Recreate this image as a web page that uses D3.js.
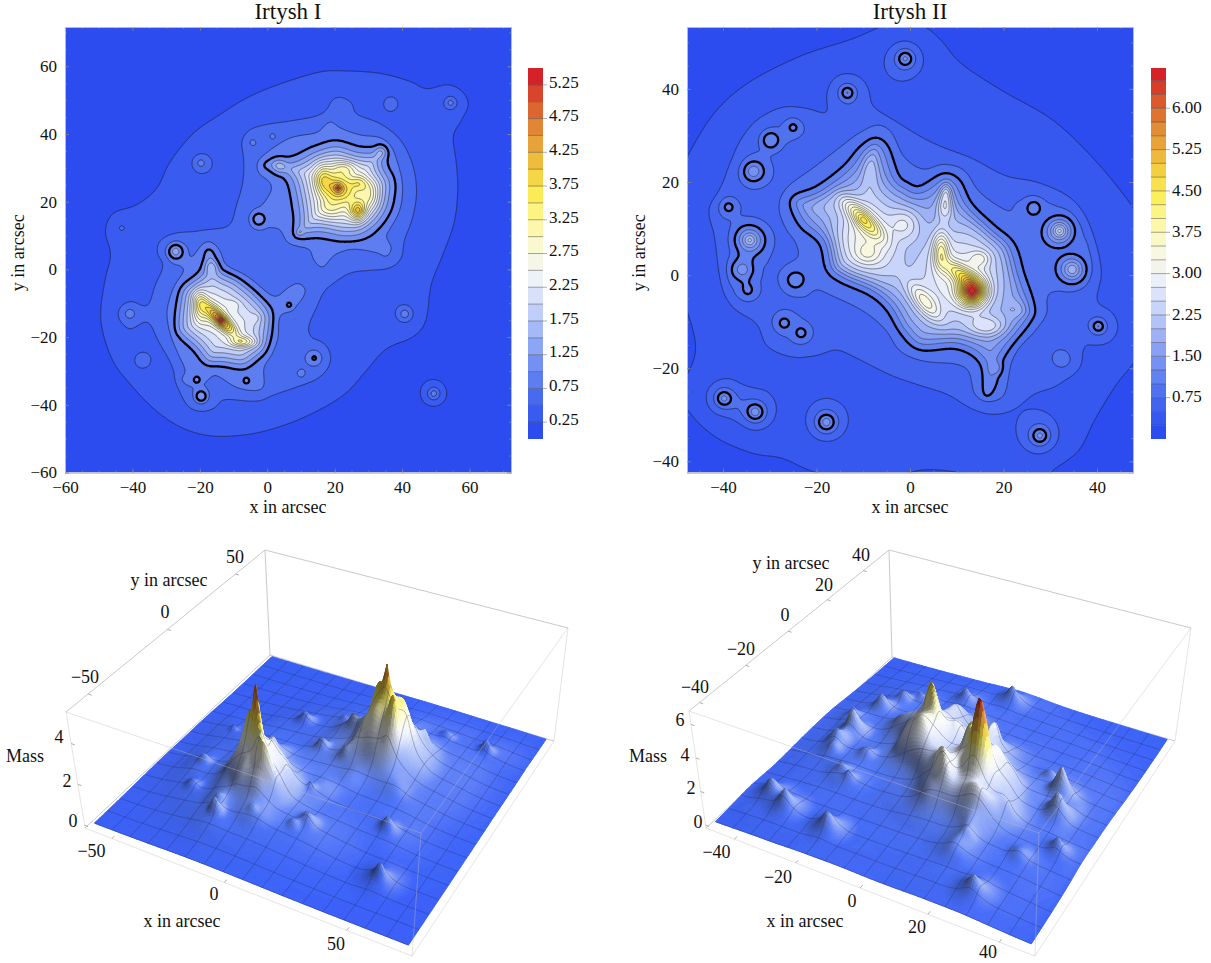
<!DOCTYPE html>
<html><head><meta charset="utf-8">
<style>html,body{margin:0;background:#fff}svg{display:block}text{font-family:"Liberation Serif",serif;fill:#111}</style>
<script src="https://cdn.jsdelivr.net/npm/d3@7"></script></head><body><svg id="c" width="1211" height="963"></svg>
<script>
// ---- values (data units: arcsec, mass) ----
const colorPos=[0,.09,.18,.27,.36,.43,.5,.59,.66,.73,.8,.87,.95,1];
const colorHex=["#2c4cf0","#4668ee","#6e8cf2","#9db2f6","#d0dafb","#eef2f8","#f8f8e0","#fdf7a0","#fcee58","#f3cf42","#e8a83a","#de7e34","#d8472a","#d42228"];
const surfaceHex=["#3a60f6","#4c72f6","#7595f6","#a5b9f8","#dbe3fc","#f6f8fb","#fbfbe4","#fdf7a0","#fcee58","#f3cf42","#e8a83a","#de7e34","#d8472a","#d42228"];

// Irtysh I: traced iso-mass outlines
const c25I=[[22.5,58.6],[33.4,58],[42.3,55.7],[47.2,53.5],[53.6,54.8],[58.1,52.6],[59.9,48.6],[57.6,43.7],[55.3,39.3],[56.1,31.9],[56.6,24],[55.6,14.2],[52.2,4.4],[48.7,-4.5],[47.2,-15.3],[43.2,-20.2],[35.3,-23.7],[29.4,-30],[23.5,-36.4],[15.6,-41.4],[5.7,-45.8],[-5.2,-48.7],[-16.1,-49.2],[-25,-46.8],[-32.9,-41.8],[-39.8,-35],[-45.8,-27.1],[-49.2,-15.3],[-48.2,-3.5],[-46.6,4.4],[-48.2,11.3],[-45.8,16.7],[-38.9,19.1],[-32.9,24],[-29,31.9],[-22,40.3],[-14.1,45.7],[-5.2,51.1],[5.7,55.5],[15.6,58.3]];
const c50I=[[22,50.8],[25,49.1],[26.4,45.7],[33.4,42.7],[39.3,37.8],[42.8,30.9],[44,23],[42.8,15.2],[40.3,8.3],[39.3,3.2],[35.3,.6],[25.4,-.5],[20.5,-3],[16.5,-6.4],[14.1,-11.4],[12.1,-16.3],[12.6,-19.7],[16.5,-22.7],[17.8,-27.1],[15.6,-32],[9.6,-34.5],[1.7,-36.9],[-3.2,-38.6],[-12.6,-38.2],[-15.6,-40.9],[-19.6,-42],[-23.5,-40.4],[-26,-35],[-28,-28.1],[-31.9,-21.2],[-35.4,-15.3],[-40.8,-17.8],[-43.8,-14.8],[-43.8,-11.9],[-40.3,-9.6],[-35.4,-10.9],[-32.9,-4.5],[-30.4,1.4],[-32.2,4.9],[-31.4,8.3],[-27,10.3],[-19.1,11.1],[-11.2,12.7],[-8.7,19.1],[-6.7,27],[-6.7,32.9],[-7.5,37.8],[-5.2,41.2],[-.3,42.7],[7.6,43.7],[16.5,45.7],[19.5,50.1]];
const c75UpperI=[[19,43.9],[21.5,41.7],[27.4,39.6],[33.4,38.8],[37.3,34.9],[39.8,26],[39.3,18.1],[36.3,12.2],[35.1,9.8],[37.1,6.3],[35.3,3.4],[32.4,4.9],[25.4,6.3],[20,4.4],[16.5,.4],[13.8,2.9],[12.6,6.3],[6.6,8.3],[3.7,12.2],[-2.3,12.5],[-4.4,14.7],[-3.7,17.2],[-1.1,19.6],[1.4,23.5],[.7,26.2],[-2.3,28.5],[-2.7,31.4],[-.3,33.9],[6.6,38.8],[14.6,40.3],[17,42.7]];
const c75LowerI=[[-27.5,7.8],[-24.2,6.3],[-22.5,3.2],[-19.1,7.3],[-16.9,8.1],[-14.3,5.2],[-12.6,.9],[-6.2,-2.7],[1.7,-8.4],[6.2,-5.5],[9.1,-4],[11.6,-6],[10.1,-9.4],[6.6,-12.3],[3.2,-13.8],[2.7,-20.2],[.7,-25.1],[-1.3,-29],[-.8,-34.5],[-3.2,-36.1],[-9.2,-35],[-15.1,-31],[-17.6,-32.5],[-20.1,-35],[-24,-34.5],[-26.2,-32.5],[-24.5,-30],[-26.5,-25.1],[-28.5,-19.2],[-29.5,-12.3],[-27.5,-5.5],[-24.5,-.1],[-28,1.9],[-29.6,4.9]];
const c100UpperI=[[1.7,32.9],[7.6,33.4],[13.6,36.3],[20.5,38.1],[27.4,36.3],[31.9,36.3],[33.8,37],[35.8,35.3],[35.8,30.9],[37.8,27],[38.1,23],[36.8,17.2],[33.4,12.2],[28.4,8.8],[22.5,8.1],[15.6,9.3],[9.6,8.8],[7.6,10.3],[7.9,15.2],[7.1,21.1],[5.7,26],[2.7,28.2],[-.8,29.9],[-1.1,31.4]];
const c100LowerI=[[-17.1,6],[-15.9,4.9],[-13.6,.4],[-8.2,-2.5],[-2.3,-7.4],[1.5,-12.3],[1.7,-17.3],[.2,-23.7],[-3.2,-27.1],[-7.2,-29.3],[-13.1,-28.6],[-18.1,-28.1],[-22,-23.7],[-26,-20.2],[-27.5,-17.3],[-27,-10.4],[-25.5,-5],[-20,-.5],[-18.3,5.4]];
// sources: x, y, peak, core, reach
const sourcesI=[[-19.7,31.4,.5,1.5,7],[-43.2,12.2,.25,1,3],[36.8,49.2,.25,2.5,4.5],[54.4,49.2,.55,1.2,5],[1.5,39.5,.2,.8,2.5],[-4.4,37.5,.25,1,3],[33.6,34.5,.36,1.3,3.2],[3.5,30.6,.36,1.6,3.8],[-2.6,14.8,.42,2,4],[-27.2,5.3,.6,1.5,4.5],[-16.4,.7,.32,2,3.6],[-40.8,-13.1,.35,1.5,4],[6.5,-10.5,.35,.5,2.5],[40.8,-13.2,.6,1.3,6],[-37.3,-27.1,.28,2.5,5],[14,-26.2,.47,1.8,6],[10.1,-30.8,.3,1.5,3.4],[-6.2,-33,.3,.6,2.5],[-20.9,-32.7,.35,.7,2.8],[-19.6,-37.6,.6,1.5,4],[49.4,-36.7,.85,1.3,12],[9.6,11,.3,.8,2],[21,24,1.1,.5,3],[-13.8,-15,1,.5,3],[26.9,17.3,.2,.5,2]];
// plateaus: x, y, height, width a, width b, angle
const bumpsI=[[21,24,1.15,3.2,3,0],[26.9,17.3,1.5,1.7,2,0],[30.4,22,.7,2,3,0],[27.4,25.5,.6,1.8,1.4,0],[16.5,27,.9,1.8,3,0],[23,30,.65,2.5,1.5,0],[18.5,17.5,.45,2.5,2,0],[-13.8,-15,2,4,1.3,-45],[-20,-10.4,1,1.6,3.2,0],[-7.2,-21.4,.95,2.8,1.1,0],[-3.3,-14.3,.2,1,1,0],[-10.2,-10.4,.25,1.5,1,0],[-17,-13,.4,3,3,0]];

// Irtysh II
const c25II=[[-6.3,53.4],[-1.96,54.8],[3.1,53.5],[6.8,50.5],[11.1,45.5],[19.8,39.7],[30.7,33.3],[40.2,24],[48.2,13.9],[54,4.6],[54,-9.7],[48.2,-18.3],[43.8,-24],[39.5,-31.2],[36.2,-37.7],[31.1,-41.6],[27.8,-43.8],[16.2,-44.1],[10.4,-42.5],[4.6,-41.9],[.2,-42.5],[-8.5,-45.6],[-20.5,-42.5],[-27.4,-39.5],[-33.9,-38.4],[-41.9,-34.8],[-47.7,-29.1],[-50.7,-25.1],[-47.7,-21.2],[-45.9,-15.5],[-47.7,-7.6],[-52.1,4.6],[-51.4,17.5],[-47.7,25.4],[-41.9,34.7],[-34.7,41.2],[-23.8,46.9],[-12.9,50.5]];
const c50II=[[-13.4,42.8],[-10.7,41.9],[-8.9,39.4],[-7.8,35.8],[-1.96,31.9],[6,27.6],[13.3,24.7],[20.6,21.1],[27.1,19.7],[33.6,16.8],[37.3,12.5],[39.5,6],[40.6,.3],[39.8,-5.4],[43.1,-9],[44,-11.5],[42.4,-14],[37.6,-15.1],[36.2,-19.8],[31.5,-23.7],[26.4,-25.5],[22,-28.7],[17.7,-29.6],[13.3,-28.4],[8.2,-25.5],[1.7,-23.3],[-4.1,-21.2],[-11.4,-17.6],[-15.8,-15.8],[-20.1,-16.9],[-25.2,-17.2],[-30.3,-15.1],[-32.5,-10.4],[-37.6,-6.8],[-40.1,-1.8],[-41.6,8.2],[-42.7,13.9],[-40.5,18.2],[-38.3,24],[-36.1,29],[-32.5,33.3],[-27.4,35.8],[-22.3,35.6],[-17.9,34.7],[-17.6,38.3],[-15.8,41.9]];
const c75MainII=[[-6.8,32.3],[-4,30.8],[-1.5,25.4],[2.9,22.6],[7.1,23.7],[11.4,22.6],[14.3,18.3],[17.8,15.4],[21.4,13.6],[22.5,15.4],[25,16.8],[27.8,16.5],[33.5,14],[36,11.1],[38.5,6.8],[38.8,3.2],[37.4,-1.8],[34.2,-3.2],[30,-3.6],[29,-5.4],[28.9,-8.3],[26.4,-11.8],[23.2,-15.1],[21.5,-18.3],[21,-20.8],[20,-25.8],[16.8,-27],[13.9,-25.5],[12.8,-20.8],[10,-19],[2.9,-18.3],[-2.1,-16.1],[-5,-11.6],[-10,-7.5],[-16.4,-4.3],[-20,-2.9],[-22.8,-4.7],[-26.4,-3.6],[-28.2,-.4],[-26.4,2.1],[-23.7,3.9],[-24.2,7.2],[-26.4,10.4],[-27.7,14.7],[-26,18.6],[-20,23.3],[-13.6,28.3],[-10,30.8]];
const c75ArcII=[[-35.7,21.9],[-34.6,24.4],[-32.1,26.9],[-31.2,30.1],[-28.5,31.9],[-25.3,33.7],[-23.2,32.6],[-22.8,30.8],[-25,29],[-27.8,27.2],[-30,25.1],[-29.6,22.6],[-30.3,20.4],[-33.5,19.4],[-35.3,20.4]];
const c75WestII=[[-41,14.3],[-39.9,16.5],[-37.8,16.7],[-36.2,14.7],[-36,12.5],[-32.8,11.1],[-30,9],[-29.6,6.1],[-30.5,2.5],[-31.7,1.1],[-32.4,-3.9],[-35,-5.4],[-38.2,-3.2],[-38.5,2.5],[-38,6.1],[-38.2,7.5],[-38.2,11.1],[-40,12.2]];
const c75PairII=[[-29.6,-9.7],[-28.2,-7.7],[-25.7,-7.5],[-22.5,-9.7],[-20.8,-12.2],[-21.8,-14.3],[-24.2,-14.8],[-27.1,-13.3],[-28.9,-11.8]];
const c100MainII=[[-7.5,29.5],[-4.6,27.6],[-2.5,21.5],[-.5,19.8],[2.1,19],[7.1,21.9],[10.7,20.4],[13.2,15.4],[17.8,10.8],[22.1,6.8],[24.2,.4],[26.7,-6.8],[25.7,-10.4],[20.3,-17.6],[18.5,-23.3],[17,-26],[15.7,-25.5],[15,-19],[10,-15.8],[2.1,-16.1],[-2.1,-12.5],[-5,-7.5],[-8.6,-4.3],[-15,-1.4],[-17.8,1.1],[-19.3,6.8],[-23.5,10.4],[-25.7,15],[-24.6,17.3],[-20,19],[-14.3,23.3],[-10.7,27.6]];
const sourcesII=[[-1,46.5,.95,1.3,8],[-17.9,-31.6,1.04,1.4,8],[27.8,-34.5,.96,1.3,8],[-39.8,-26.5,1,1.3,8],[-33.1,-29.4,1.08,1.3,8],[-25,31.7,.45,.5,3],[-29.8,29,.45,2,3.5],[-33.5,22.3,.7,1.2,5],[-38.8,14.6,.45,.6,3],[-34.3,7.5,1.25,1.3,6],[-35.9,1.2,.6,1.8,5],[-34.7,-3.2,.35,1,3.5],[-24.6,-1.1,.35,2,4],[-26.9,-10.3,.42,.8,3.2],[-23.3,-12.4,.42,.8,3.2],[26.5,14.5,.38,1.5,3.3],[32,9.5,1.5,1.3,5.5],[34.7,1.2,1.15,1.5,5.5],[40.3,-11,.7,.9,5],[32.6,-18.1,.32,2.5,4.5],[-13.4,39.2,.7,1,5],[18.4,-20,.3,1,2.5],[13.3,-3.6,.6,.8,3],[-10,12,.3,.7,3]];
const bumpsII=[[-10,8.5,1.45,4.8,6.5,-15],[-10,12,1.5,4,1.3,-45],[-9,4.5,.5,2,1.6,0],[-8.5,23,.55,1.4,3.5,0],[-18,15.5,.35,4,2,0],[-1,11,.8,2.3,2.5,0],[-5,2,.3,3,4,0],[10,0,1.35,7,8,-30],[13.3,-3.6,3.3,2.1,2.1,0],[10.8,.2,1.3,3,1.3,-35],[6.6,5.4,1.35,1.2,2.8,0],[7.7,18,.75,.9,1.6,0],[7.5,14.7,.95,1.2,2,0],[3.1,-5.7,1.1,3.5,1.4,-50],[16.6,-11,.85,3,1.6,0],[23.5,-7.5,.4,2,1.5,0],[15,3.6,.6,1.5,1.2,0]];

const levelsI=d3.range(.25,5.5,.25), levelsII=d3.range(.25,6.6,.25);
const barTicksI=[.25,.75,1.25,1.75,2.25,2.75,3.25,3.75,4.25,4.75,5.25];
const barTicksII=[.75,1.5,2.25,3,3.75,4.5,5.25,6];
const xTicksI=[-60,-40,-20,0,20,40,60], yTicksI=xTicksI;
const xTicksII=[-40,-20,0,20,40], yTicksII=xTicksII;
const boxXLabelsI=[-50,0,50], boxYLabelsI=[-50,0,50], boxZLabelsI=[0,2,4];
const boxXLabelsII=[-40,-20,0,20,40], boxYLabelsII=[-40,-20,0,20,40], boxZLabelsII=[0,2,4,6];

const svg=d3.select("#c");
const defs=svg.append("defs");

function smoothClosed(p,k=6){const n=p.length,o=[];for(let i=0;i<n;i++){const a=p[(i-1+n)%n],b=p[i],c=p[(i+1)%n],d=p[(i+2)%n];
  for(let j=0;j<k;j++){const t=j/k,t2=t*t,t3=t2*t;
   o.push([.5*(2*b[0]+(c[0]-a[0])*t+(2*a[0]-5*b[0]+4*c[0]-d[0])*t2+(3*b[0]-a[0]-3*c[0]+d[0])*t3),
           .5*(2*b[1]+(c[1]-a[1])*t+(2*a[1]-5*b[1]+4*c[1]-d[1])*t2+(3*b[1]-a[1]-3*c[1]+d[1])*t3)]);}}return o;}
function inPoly(p,x,y){let c=false;for(let i=0,j=p.length-1;i<p.length;j=i++){const a=p[i],b=p[j];if((a[1]>y)!==(b[1]>y)&&x<(b[0]-a[0])*(y-a[1])/(b[1]-a[1])+a[0])c=!c;}return c;}
function dist(p,x,y){let m=1e18;for(let i=0,j=p.length-1;i<p.length;j=i++){const ax=p[j][0],ay=p[j][1],dx=p[i][0]-ax,dy=p[i][1]-ay;let t=((x-ax)*dx+(y-ay)*dy)/(dx*dx+dy*dy||1);t=t<0?0:t>1?1:t;const ex=ax+t*dx-x,ey=ay+t*dy-y,e=ex*ex+ey*ey;if(e<m)m=e;}return Math.sqrt(m);}
const distSet=(s,x,y)=>Math.min(...s.map(p=>dist(p,x,y)));

function buildField(cfg){
  const lv=cfg.outlines.map(s=>s.map(p=>smoothClosed(p)));
  const cs=cfg.step*2,nc=Math.ceil((cfg.x1-cfg.x0)/cs)+1,mc=Math.ceil((cfg.y1-cfg.y0)/cs)+1;
  let base=new Float64Array(nc*mc),win=new Float64Array(nc*mc);
  for(let j=0;j<mc;j++)for(let i=0;i<nc;i++){
    const x=cfg.x0+i*cs,y=cfg.y0+j*cs;let k=-1,which=0;
    for(let l=3;l>=0&&k<0;l--)for(let q=0;q<lv[l].length;q++)if(inPoly(lv[l][q],x,y)){k=l;which=q;break;}
    let v,w=0;
    if(k<0)v=.25*Math.exp(-distSet(lv[0],x,y)/9);
    else if(k<3){const a=distSet(lv[k],x,y),b=distSet(lv[k+1],x,y);v=.25*(k+1)+.25*a/(a+b);}
    else{const d=dist(lv[3][which],x,y),c=cfg.core[which];v=1+c[0]*(1-Math.exp(-Math.pow(d/c[1],c[2])));w=1-Math.exp(-d*d/6.25);}
    base[j*nc+i]=v;win[j*nc+i]=w;
  }
  for(let pass=0;pass<2;pass++){const o=base.slice();for(let j=1;j<mc-1;j++)for(let i=1;i<nc-1;i++){const a=j*nc+i;
    o[a]=(4*base[a]+2*(base[a-1]+base[a+1]+base[a-nc]+base[a+nc])+base[a-nc-1]+base[a-nc+1]+base[a+nc-1]+base[a+nc+1])/16;}base=o;}
  const n=(nc-1)*2+1,m=(mc-1)*2+1,vals=new Float64Array(n*m),srcs=new Float64Array(n*m);
  const bu=cfg.bumps.map(b=>{const t=b[5]*Math.PI/180;return [b[0],b[1],b[2],b[3],b[4],Math.cos(t),Math.sin(t)];});
  for(let j=0;j<m;j++)for(let i=0;i<n;i++){
    const x=cfg.x0+i*cfg.step,y=cfg.y0+j*cfg.step,ic=i>>1,jc=j>>1,fx=(i&1)/2,fy=(j&1)/2,ic1=Math.min(ic+1,nc-1),jc1=Math.min(jc+1,mc-1);
    const bil=A=>(A[jc*nc+ic]*(1-fx)+A[jc*nc+ic1]*fx)*(1-fy)+(A[jc1*nc+ic]*(1-fx)+A[jc1*nc+ic1]*fx)*fy;
    let v=bil(base),sv=0;const w=bil(win);
    if(w>0)for(const b of bu){const dx=x-b[0],dy=y-b[1],u=dx*b[5]+dy*b[6],t=-dx*b[6]+dy*b[5];v+=w*b[2]*Math.exp(-.5*(u*u/(b[3]*b[3])+t*t/(b[4]*b[4])));}
    for(const s of cfg.sources){const dx=x-s[0],dy=y-s[1],r2=dx*dx+dy*dy,T2=s[4]*s[4];if(r2<T2){const q=1-r2/T2;sv+=s[2]/Math.sqrt(1+r2/(s[3]*s[3]))*q*q;}}
    vals[j*n+i]=v+sv;srcs[j*n+i]=sv;
  }
  const samp=A=>(x,y)=>{let a=(x-cfg.x0)/cfg.step,b=(y-cfg.y0)/cfg.step;a=Math.max(0,Math.min(n-1.001,a));b=Math.max(0,Math.min(m-1.001,b));const i=a|0,j=b|0,fx=a-i,fy=b-j;
    return (A[j*n+i]*(1-fx)+A[j*n+i+1]*fx)*(1-fy)+(A[(j+1)*n+i]*(1-fx)+A[(j+1)*n+i+1]*fx)*fy;};
  return {vals,n,m,sample:samp(vals),sampleSrc:samp(srcs),x0:cfg.x0,y0:cfg.y0,step:cfg.step};
}

function contourPanel(o){
  const {F,xd,yd,xr,yr,levels,max,id}=o;
  const x=d3.scaleLinear(xd,xr),y=d3.scaleLinear(yd,yr);
  const col=d3.scaleLinear(colorPos.map(p=>p*max),colorHex).clamp(true);
  const bandColor=i=>col(i/levels.length*max);
  defs.append("clipPath").attr("id",id).append("rect").attr("x",xr[0]).attr("y",yr[1]).attr("width",xr[1]-xr[0]).attr("height",yr[0]-yr[1]);
  const g=svg.append("g");
  const plot=g.append("g").attr("clip-path",`url(#${id})`);
  plot.append("rect").attr("x",xr[0]).attr("y",yr[1]).attr("width",xr[1]-xr[0]).attr("height",yr[0]-yr[1]).attr("fill",bandColor(0));
  const cont=d3.contours().size([F.n,F.m]).smooth(true).thresholds(levels)(Array.from(F.vals));
  const path=d3.geoPath(d3.geoTransform({point(a,b){this.stream.point(x(F.x0+(a-.5)*F.step),y(F.y0+(b-.5)*F.step));}}));
  const dIdx=cont.map((c,i)=>({v:c.value,d:path(c),fill:bandColor(i+1)}));
  plot.selectAll("path.b").data(dIdx).join("path").attr("class","b").attr("d",d=>d.d).attr("fill",d=>d.fill).attr("stroke",d=>d.fill).attr("stroke-width",.3);
  plot.selectAll("path.l").data(dIdx.filter(d=>d.v!==1)).join("path").attr("class","l").attr("d",d=>d.d).attr("fill","none")
    .attr("stroke",d=>d.v<1?"#1c2655":"#2e2e2e").attr("stroke-opacity",d=>d.v<1?.9:.7).attr("stroke-width",d=>d.v<1?.8:.75);
  plot.selectAll("path.k").data(dIdx.filter(d=>d.v===1)).join("path").attr("class","k").attr("d",d=>d.d).attr("fill","none").attr("stroke","#000").attr("stroke-width",2.3);
  // frame and axes
  const frame=(mk,ticks,minor,tr,lab)=>{
    g.append("g").attr("transform",tr).call(mk(x,y).tickValues(minor).tickSize(-2).tickFormat("")).attr("class","ax");
    const b=g.append("g").attr("transform",tr).attr("class","ax");
    b.call(mk(x,y).tickValues(ticks).tickSize(-4).tickPadding(8).tickFormat(lab?d3.format("d"):""));
    g.selectAll(".ax path.domain").attr("stroke","#bbb").attr("stroke-width",1);
    g.selectAll(".ax .tick line").attr("stroke","#888").attr("stroke-width",.7);
    b.selectAll("text").attr("font-size",17).attr("fill","#111").attr("font-family","Liberation Serif");
  };
  const minorX=d3.range(Math.ceil(xd[0]/5)*5,xd[1],5),minorY=d3.range(Math.ceil(yd[0]/5)*5,yd[1],5);
  frame((a,b)=>d3.axisBottom(a),o.xTicks,minorX,`translate(0,${yr[0]})`,true);
  frame((a,b)=>d3.axisTop(a),o.xTicks,minorX,`translate(0,${yr[1]})`,false);
  frame((a,b)=>d3.axisLeft(b),o.yTicks,minorY,`translate(${xr[0]},0)`,true);
  frame((a,b)=>d3.axisRight(b),o.yTicks,minorY,`translate(${xr[1]},0)`,false);
  svg.append("text").attr("x",(xr[0]+xr[1])/2).attr("y",18.5).attr("text-anchor","middle").attr("font-size",23).text(o.title);
  svg.append("text").attr("x",(xr[0]+xr[1])/2).attr("y",513).attr("text-anchor","middle").attr("font-size",18).text("x in arcsec");
  svg.append("text").attr("transform",`translate(${o.ylx},${(yr[0]+yr[1])/2+3}) rotate(-90)`).attr("text-anchor","middle").attr("font-size",18).text("y in arcsec");
  // colour bar
  const by=d3.scaleLinear([0,max],[439,68]);
  const bar=svg.append("g");
  const edges=[0,...levels,max];
  bar.selectAll("rect").data(d3.pairs(edges)).join("rect").attr("x",o.barX).attr("width",15).attr("y",d=>by(d[1])).attr("height",d=>by(d[0])-by(d[1])).attr("fill",(d,i)=>bandColor(i));
  bar.selectAll("line.s").data(levels).join("line").attr("class","s").attr("x1",o.barX).attr("x2",o.barX+15).attr("y1",d=>by(d)).attr("y2",d=>by(d)).attr("stroke","#333").attr("stroke-opacity",.55).attr("stroke-width",.8);
  bar.selectAll("line.t").data(o.barTicks).join("line").attr("class","t").attr("x1",o.barX+15).attr("x2",o.barX+19).attr("y1",d=>by(d)).attr("y2",d=>by(d)).attr("stroke","#999").attr("stroke-width",.8);
  bar.selectAll("text").data(o.barTicks).join("text").attr("x",o.barX+21).attr("y",d=>by(d)-o.barDy).attr("dy",".34em").attr("font-size",17).text(d=>d3.format(".2f")(d));
}

function homography(q){ // unit square -> quad [p00,p10,p11,p01]
  const [[x0,y0],[x1,y1],[x2,y2],[x3,y3]]=q;
  const dx1=x1-x2,dx2=x3-x2,sx=x0-x1+x2-x3,dy1=y1-y2,dy2=y3-y2,sy=y0-y1+y2-y3,den=dx1*dy2-dx2*dy1;
  const g=(sx*dy2-dx2*sy)/den,h=(dx1*sy-sx*dy1)/den;
  const a=x1-x0+g*x1,b=x3-x0+h*x3,d=y1-y0+g*y1,e=y3-y0+h*y3;
  return (u,v)=>{const w=g*u+h*v+1;return [(a*u+b*v+x0)/w,(d*u+e*v+y0)/w];};
}
function blurGrid(h,N,passes){let a=h.map(r=>Float64Array.from(r));for(let p=0;p<passes;p++){const o=a.map(r=>Float64Array.from(r));
  for(let j=0;j<=N;j++){const j0=Math.max(j-1,0),j1=Math.min(j+1,N);for(let i=0;i<=N;i++){const i0=Math.max(i-1,0),i1=Math.min(i+1,N);
    o[j][i]=(4*a[j][i]+2*(a[j][i0]+a[j][i1]+a[j0][i]+a[j1][i])+a[j0][i0]+a[j0][i1]+a[j1][i0]+a[j1][i1])/16;}}a=o;}return a;}

function surfacePanel(o){
  const {F,xd,yd,zmax,bot,top}=o,N=160,meshEvery=10;
  const padX=(xd[1]-xd[0])*.02,padY=(yd[1]-yd[0])*.02;
  const ux=d3.scaleLinear([xd[0]-padX,xd[1]+padX],[0,1]),uy=d3.scaleLinear([yd[0]-padY,yd[1]+padY],[0,1]),uz=d3.scaleLinear([-.025*o.ztop/.975,o.ztop],[0,1]);
  const H0=homography(bot),H1=homography(top);
  const P=(x,y,z)=>{const u=ux(x),v=uy(y),w=uz(z),a=H0(u,v),b=H1(u,v);return [a[0]+(b[0]-a[0])*w,a[1]+(b[1]-a[1])*w];};
  const Pu=(u,v,w)=>{const a=H0(u,v),b=H1(u,v);return [a[0]+(b[0]-a[0])*w,a[1]+(b[1]-a[1])*w];};
  const gx=d3.scaleLinear([0,N],xd),gy=d3.scaleLinear([0,N],yd);
  const low=[],src=[];for(let j=0;j<=N;j++){low[j]=new Float64Array(N+1);src[j]=new Float64Array(N+1);for(let i=0;i<=N;i++){const s=F.sampleSrc(gx(i),gy(j));src[j][i]=s;low[j][i]=F.sample(gx(i),gy(j))-s;}}
  const soft=blurGrid(low,N,7);
  const h=low.map((r,j)=>r.map((v,i)=>{const w=Math.max(0,Math.min(1,(v-.85)/.6));return v*w+soft[j][i]*(1-w)+src[j][i];}));
  const sh=blurGrid(h,N,2);
  const col=d3.scaleLinear(colorPos.map(p=>p*zmax),surfaceHex).clamp(true);
  const hs=.3/zmax,Lx=.72,Ly=.22,Lz=.66;
  const shade=(i,j)=>{const i0=Math.max(i-1,0),i1=Math.min(i+1,N),j0=Math.max(j-1,0),j1=Math.min(j+1,N);
    const dzu=(sh[j][i1]-sh[j][i0])*hs*N/(i1-i0),dzv=(sh[j1][i]-sh[j0][i])*hs*N/(j1-j0);
    const nl=(-dzu*Lx-dzv*Ly+Lz)/Math.sqrt(1+dzu*dzu+dzv*dzv);return nl/Lz;};
  const pts=[];for(let j=0;j<=N;j++){pts[j]=[];for(let i=0;i<=N;i++)pts[j][i]=P(gx(i),gy(j),h[j][i]);}
  const f=a=>a[0].toFixed(1)+","+a[1].toFixed(1);
  const runs=[];let cur=null,pending=[];
  for(let j=N-1;j>=0;j--){
    const now=[];
    for(let i=0;i<N;i++){
      const v=(h[j][i]+h[j][i+1]+h[j+1][i]+h[j+1][i+1])/4,s=shade(i,j);
      const c=d3.rgb(col(v));let r=c.r,g=c.g,b=c.b;
      if(s<1){const k=.46+.54*Math.max(s,0);r*=k;g*=k;b*=k;}else{const k=Math.min(1,(s-1)*.9);r+=(255-r)*k;g+=(255-g)*k;b+=(255-b)*k;}
      const q=x=>Math.min(255,Math.round(x/4)*4),fill=`rgb(${q(r)},${q(g)},${q(b)})`;
      const d="M"+f(pts[j][i])+"L"+f(pts[j][i+1])+"L"+f(pts[j+1][i+1])+"L"+f(pts[j+1][i])+"Z";
      if(cur&&cur.fill===fill)cur.d+=d;else{cur={fill,d};runs.push(cur);}
      if(j%meshEvery===0)now.push("M"+f(pts[j][i])+"L"+f(pts[j][i+1]));
      if((i+1)%meshEvery===0&&i+1<N)now.push("M"+f(pts[j][i+1])+"L"+f(pts[j+1][i+1]));
    }
    if(pending.length){runs.push({mesh:true,d:pending.join("")});cur=null;}
    pending=now;
  }
  if(pending.length)runs.push({mesh:true,d:pending.join("")});
  // box
  const corners={a:[0,0],b:[1,0],c:[1,1],d:[0,1]};
  const E=(p,q,w1,w2)=>({s:Pu(corners[p][0],corners[p][1],w1),e:Pu(corners[q][0],corners[q][1],w2)});
  const back=[E("d","d",0,1),E("a","d",1,1),E("d","c",1,1),E("a","d",0,0),E("d","c",0,0)];
  const front=[E("a","a",0,1),E("c","c",0,1),E("b","b",0,1),E("a","b",0,0),E("b","c",0,0),E("a","b",1,1),E("b","c",1,1)];
  const edge=(g,d)=>g.selectAll("line").data(d).join("line").attr("x1",e=>e.s[0]).attr("y1",e=>e.s[1]).attr("x2",e=>e.e[0]).attr("y2",e=>e.e[1]).attr("stroke","#bbb").attr("stroke-width",.8);
  edge(svg.append("g"),back);
  svg.append("g").selectAll("path").data(runs).join("path").attr("d",d=>d.d)
    .attr("fill",d=>d.mesh?"none":d.fill).attr("stroke",d=>d.mesh?"#1c2450":d.fill).attr("stroke-width",d=>d.mesh?.6:.9).attr("stroke-opacity",d=>d.mesh?.5:1);
  edge(svg.append("g"),front).attr("stroke-opacity",.5);
  // axis ticks and labels
  const lab=(p,t)=>svg.append("text").attr("x",p[0]).attr("y",p[1]).attr("text-anchor","middle").attr("dy",".34em").attr("font-size",18).text(t);
  const fmt=d3.format("d");
  const tk=(s,e)=>svg.append("line").attr("x1",s[0]).attr("y1",s[1]).attr("x2",e[0]).attr("y2",e[1]).attr("stroke","#999").attr("stroke-width",.8);
  o.xTicks.forEach((t,i)=>{tk(Pu(ux(t),0,0),Pu(ux(t),.012,0));lab(o.xPos[i],fmt(t));});
  o.yTicks.forEach((t,i)=>{tk(Pu(0,uy(t),1),Pu(.012,uy(t),1));lab(o.yPos[i],fmt(t));});
  o.zTicks.forEach((t,i)=>{tk(Pu(0,0,uz(t)),Pu(.012,0,uz(t)));lab(o.zPos[i],fmt(t));});
  lab(o.xl,"x in arcsec");lab(o.yl,"y in arcsec");lab(o.zl,"Mass");
}

const FI=buildField({x0:-62,x1:74,y0:-62,y1:74,step:.3,outlines:[[c25I],[c50I],[c75UpperI,c75LowerI],[c100UpperI,c100LowerI]],core:[[2.1,7.5,1.5],[1.45,5,1.3]],bumps:bumpsI,sources:sourcesI});
const FII=buildField({x0:-50,x1:50,y0:-44,y1:55,step:.22,outlines:[[c25II],[c50II],[c75MainII,c75ArcII,c75WestII,c75PairII],[c100MainII]],core:[[.6,2.5,1.3]],bumps:bumpsII,sources:sourcesII});

contourPanel({F:FI,id:"cpI",title:"Irtysh I",xd:[-60,72.3],yd:[-60,71.6],xr:[65,511],yr:[472.5,27],levels:levelsI,max:5.5,xTicks:xTicksI,yTicks:yTicksI,barX:528,barTicks:barTicksI,barDy:3,ylx:24});
contourPanel({F:FII,id:"cpII",title:"Irtysh II",xd:[-47.7,47.7],yd:[-42.4,53.3],xr:[687,1133],yr:[472.5,27],levels:levelsII,max:6.73,xTicks:xTicksII,yTicks:yTicksII,barX:1151,barTicks:barTicksII,barDy:1,ylx:645});

surfacePanel({F:FI,xd:[-60,72.3],yd:[-60,71.6],zmax:5.5,ztop:5.55,bot:[[85,828],[412,956],[554,741],[270,655]],top:[[66,712],[421,833],[568,628],[265,550]],
  xTicks:boxXLabelsI,yTicks:boxYLabelsI,zTicks:boxZLabelsI,xPos:[[91.5,851],[214,894],[336,944]],yPos:[[85,677],[165,612],[235,557]],zPos:[[73,821],[67,781],[59,737]],xl:[182,921],yl:[169,580],zl:[25,756]});
surfacePanel({F:FII,xd:[-47.7,47.7],yd:[-42.4,53.3],zmax:6.73,ztop:6.8,bot:[[706,828],[1035,956],[1175,741],[892,657]],top:[[689,711],[1039,833],[1191,628],[889,550]],
  xTicks:boxXLabelsII,yTicks:boxYLabelsII,zTicks:boxZLabelsII,xPos:[[716.5,852],[778,877],[852,901],[917,927],[988,952]],yPos:[[695,687],[741,649],[785,615],[824,585],[861,555]],zPos:[[698,822],[691,788],[685,755],[680,720]],xl:[805,921],yl:[791,563],zl:[648,756]});
</script></body></html>
